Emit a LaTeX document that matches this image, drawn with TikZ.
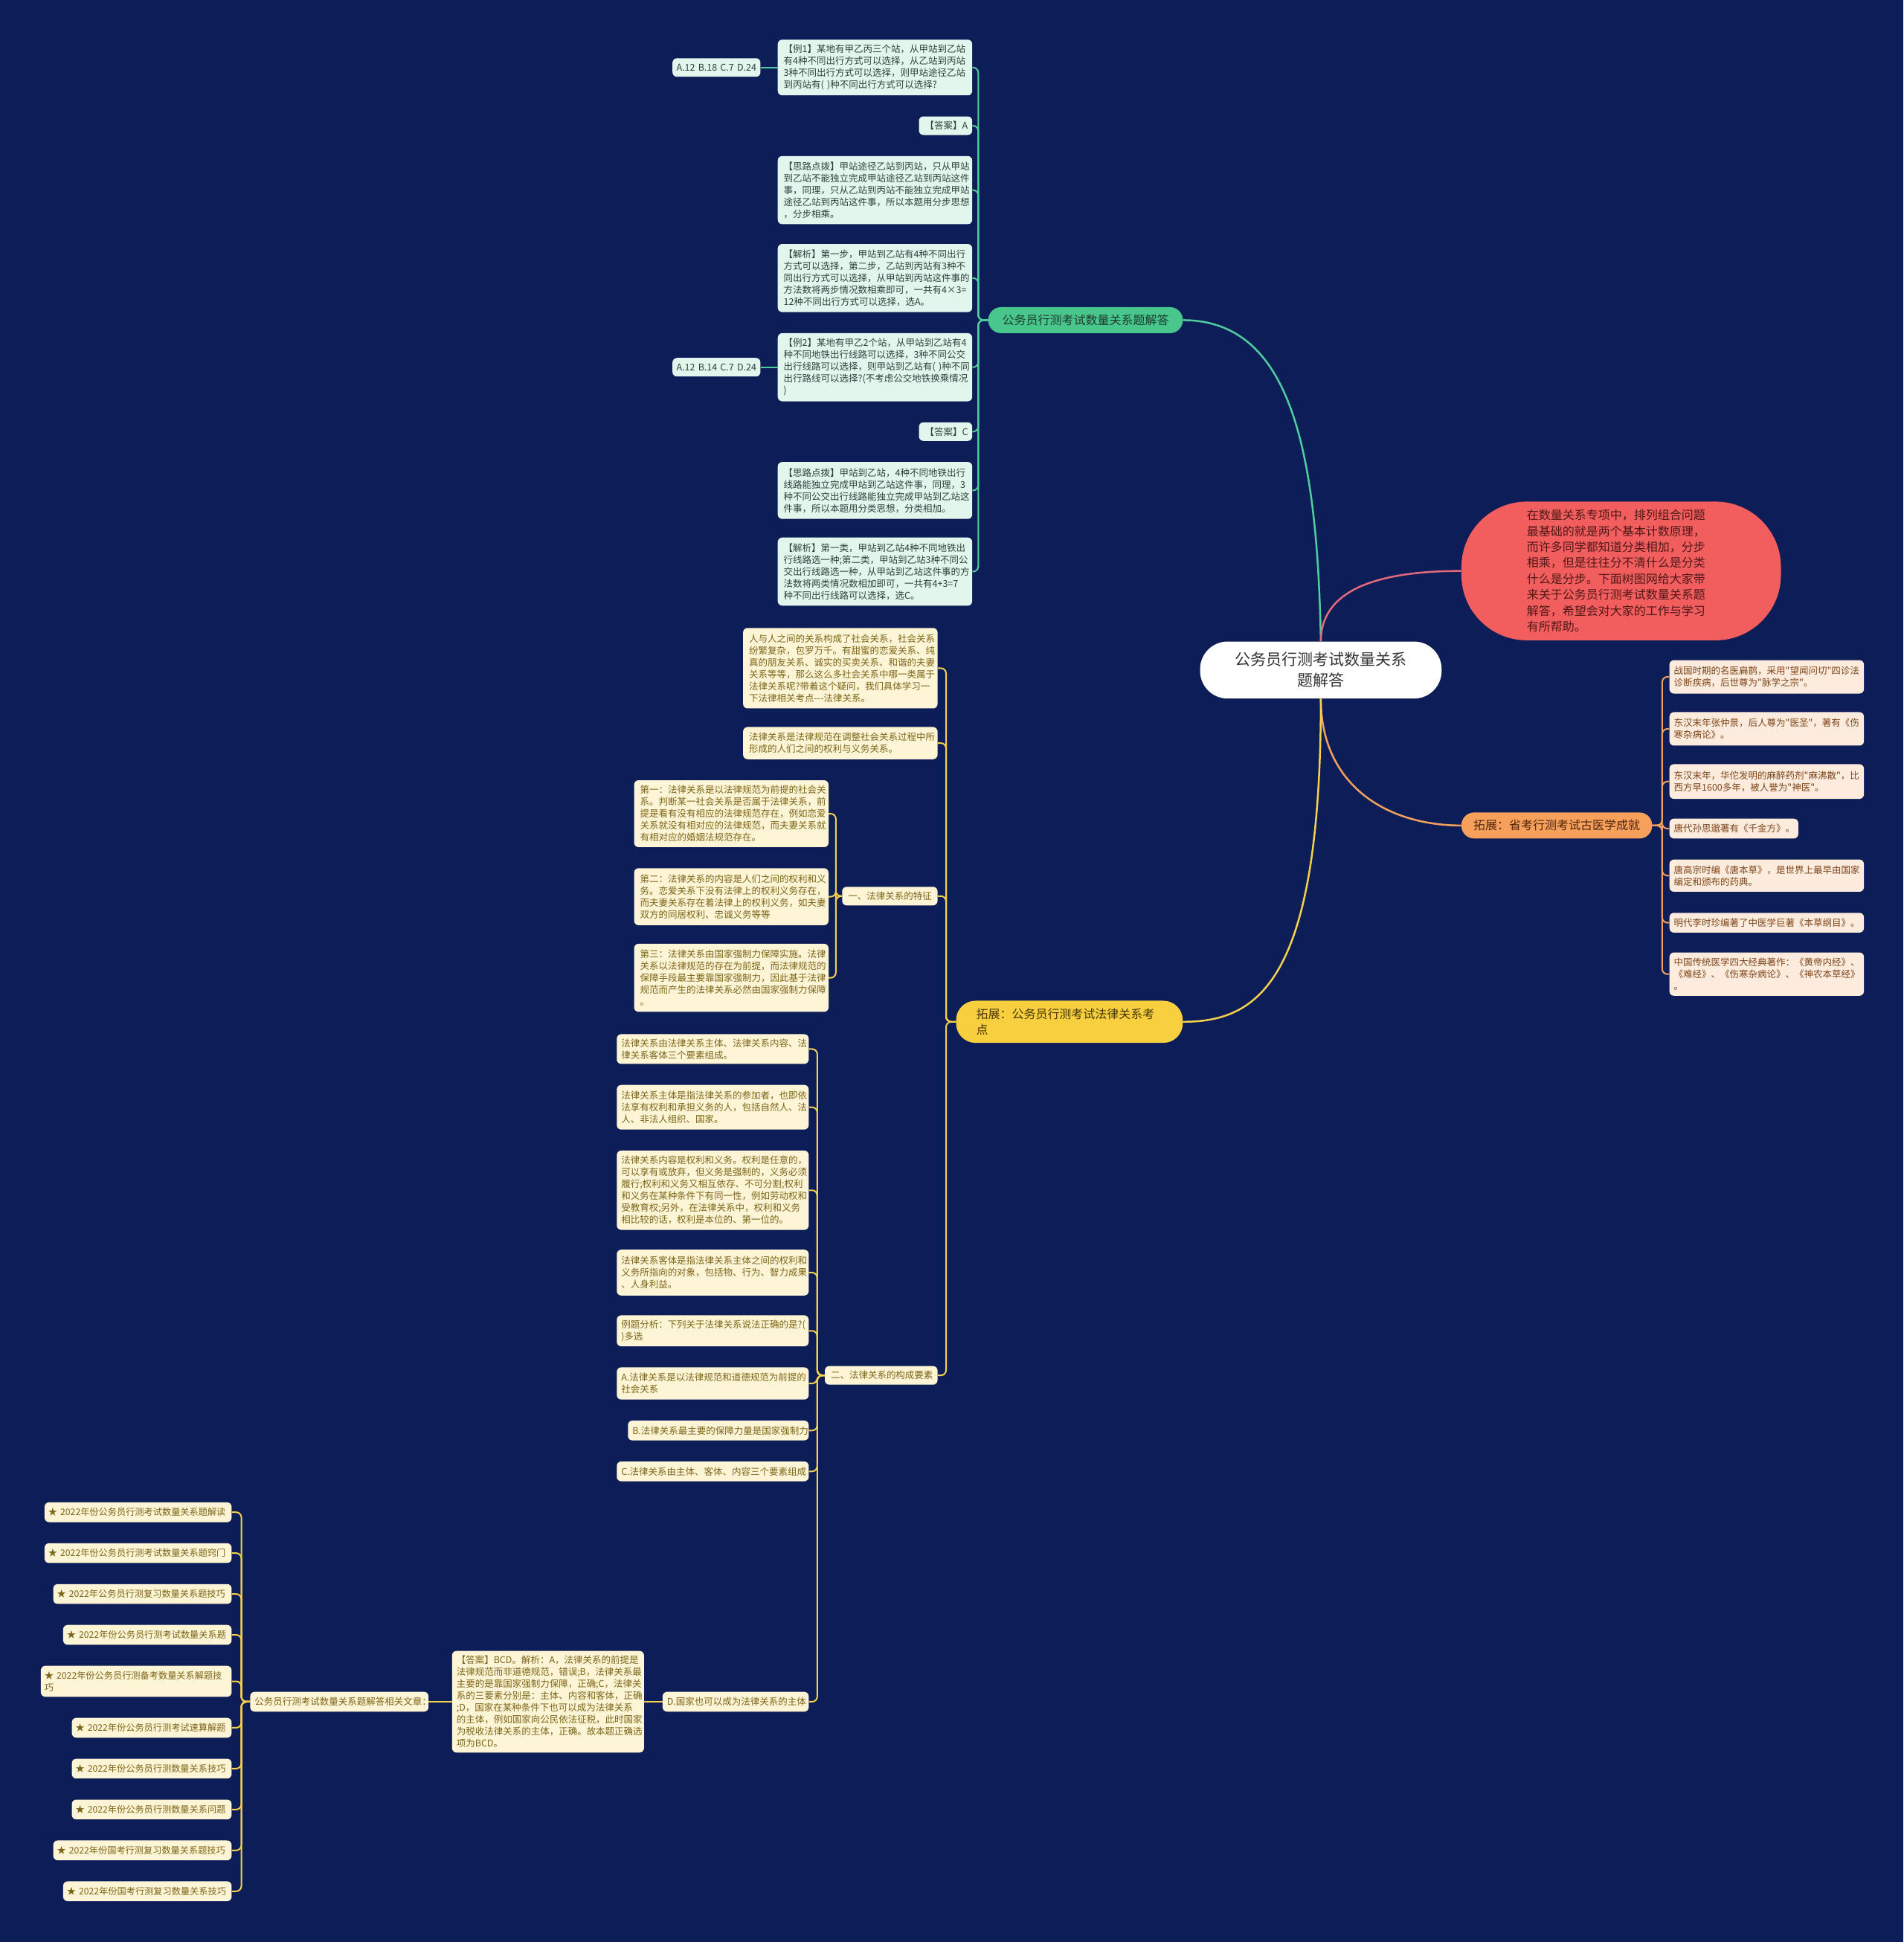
\documentclass[tikz,border=0pt]{standalone}
\usepackage{fontspec}
\newfontfamily\cjkf{Noto Sans CJK SC}
\definecolor{bg}{RGB}{12,29,88}
\definecolor{gfill}{RGB}{72,198,140}
\definecolor{gtext}{RGB}{28,58,44}
\definecolor{gchfill}{RGB}{226,246,238}
\definecolor{gchtext}{RGB}{47,64,58}
\definecolor{gline}{RGB}{80,205,158}
\definecolor{rfill}{RGB}{242,93,93}
\definecolor{rtext}{RGB}{80,24,24}
\definecolor{rline}{RGB}{226,106,124}
\definecolor{ofill}{RGB}{246,160,92}
\definecolor{otext}{RGB}{80,38,10}
\definecolor{ochfill}{RGB}{253,236,222}
\definecolor{ochtext}{RGB}{126,68,24}
\definecolor{oline}{RGB}{244,161,93}
\definecolor{yfill}{RGB}{247,207,63}
\definecolor{ytext}{RGB}{70,55,5}
\definecolor{ychfill}{RGB}{254,245,214}
\definecolor{ychtext}{RGB}{124,100,24}
\definecolor{yline}{RGB}{245,208,74}
\definecolor{ctext}{RGB}{51,51,51}
% #1 pad (pt), #2 name, #3 x1, #4 y1, #5 x2, #6 y2, #7 style, #8 text
\newcommand\bx[8][8]{%
  \pgfmathsetmacro\bxw{(#5-#3)*1.6656-2*#1}%
  \pgfmathsetmacro\bxh{(#6-#4)*1.6656}%
  \node[#7, inner xsep=#1pt, inner ysep=0pt, text width=\bxw pt, minimum height=\bxh pt]
    (#2) at ({(#3+#5)/2},{(#4+#6)/2}) {#8};}
\newcommand\lkL[4]{\draw[#1] (#2.west) -- ++(-#4,0) |- (#3.east);}
\newcommand\lkR[4]{\draw[#1] (#2.east) -- ++(#4,0) |- (#3.west);}
\begin{document}
\begin{tikzpicture}[x=1.6656pt,y=-1.6656pt,
  base/.style={align=left, font=\cjkf\fontsize{12.5}{16}\selectfont},
  gch/.style={base, rounded corners=6pt, fill=gchfill, text=gchtext},
  och/.style={base, rounded corners=6pt, fill=ochfill, text=ochtext},
  ych/.style={base, rounded corners=6pt, fill=ychfill, text=ychtext},
  lst/.style={ych, font=\cjkf\fontsize{12.2}{16}\selectfont},
  mainfont/.style={font=\cjkf\fontsize{16}{21.5}\selectfont},
  gnode/.style={mainfont, rounded corners=17pt, fill=gfill, text=gtext, align=center},
  onode/.style={mainfont, rounded corners=17pt, fill=ofill, text=otext, align=center},
  ynode/.style={mainfont, rounded corners=26pt, fill=yfill, text=ytext, align=left},
  rnode/.style={mainfont, rounded corners=88pt, fill=rfill, text=rtext, align=left},
  cnode/.style={font=\cjkf\fontsize{21}{28}\selectfont, rounded corners=37pt, fill=white, text=ctext, align=center},
  gl/.style={draw=gline, line width=2pt, rounded corners=7pt},
  ol/.style={draw=oline, line width=2pt, rounded corners=7pt},
  yl/.style={draw=yline, line width=2pt, rounded corners=7pt},
  mainline/.style={line width=2.5pt}]
\fill[bg] (0,0) rectangle (1537,1568);

% ---------- center & main nodes
\bx{C}{969}{518}{1164}{564}{cnode}{公务员行测考试数量关系\\题解答}
\bx{G}{798}{248}{955}{269}{gnode}{公务员行测考试数量关系题解答}
\bx[88]{R}{1180}{405}{1438}{517}{rnode}{在数量关系专项中，排列组合问题\\最基础的就是两个基本计数原理，\\而许多同学都知道分类相加，分步\\相乘，但是往往分不清什么是分类\\什么是分步。下面树图网给大家带\\来关于公务员行测考试数量关系题\\解答，希望会对大家的工作与学习\\有所帮助。}
\bx{O}{1180}{656}{1334}{677}{onode}{拓展：省考行测考试古医学成就}
\bx[27]{Y}{772}{808}{955}{842}{ynode}{拓展：公务员行测考试法律关系考\\点}

% ---------- green branch
\bx{g1}{628}{32}{785}{77}{gch}{【例1】某地有甲乙丙三个站，从甲站到乙站\\有4种不同出行方式可以选择，从乙站到丙站\\3种不同出行方式可以选择，则甲站途径乙站\\到丙站有(~)种不同出行方式可以选择?}
\bx[3]{g1a}{543}{47}{614}{62}{gch, align=center}{A.12~B.18~C.7~D.24}
\bx{g2}{742}{94}{785}{109}{gch}{【答案】A}
\bx{g3}{628}{126}{785}{181}{gch}{【思路点拨】甲站途径乙站到丙站，只从甲站\\到乙站不能独立完成甲站途径乙站到丙站这件\\事，同理，只从乙站到丙站不能独立完成甲站\\途径乙站到丙站这件事，所以本题用分步思想\\，分步相乘。}
\bx{g4}{628}{197}{785}{252}{gch}{【解析】第一步，甲站到乙站有4种不同出行\\方式可以选择，第二步，乙站到丙站有3种不\\同出行方式可以选择，从甲站到丙站这件事的\\方法数将两步情况数相乘即可，一共有4×3=\\12种不同出行方式可以选择，选A。}
\bx{g5}{628}{269}{785}{324}{gch}{【例2】某地有甲乙2个站，从甲站到乙站有4\\种不同地铁出行线路可以选择，3种不同公交\\出行线路可以选择，则甲站到乙站有(~)种不同\\出行路线可以选择?(不考虑公交地铁换乘情况\\)}
\bx[3]{g5a}{543}{289}{614}{304}{gch, align=center}{A.12~B.14~C.7~D.24}
\bx{g6}{742}{341}{785}{356}{gch}{【答案】C}
\bx{g7}{628}{373}{785}{419}{gch}{【思路点拨】甲站到乙站，4种不同地铁出行\\线路能独立完成甲站到乙站这件事，同理，3\\种不同公交出行线路能独立完成甲站到乙站这\\件事，所以本题用分类思想，分类相加。}
\bx{g8}{628}{434}{785}{489}{gch}{【解析】第一类，甲站到乙站4种不同地铁出\\行线路选一种;第二类，甲站到乙站3种不同公\\交出行线路选一种，从甲站到乙站这件事的方\\法数将两类情况数相加即可，一共有4+3=7\\种不同出行线路可以选择，选C。}

% ---------- orange branch
\bx[6]{o1}{1348}{533}{1505}{560}{och}{战国时期的名医扁鹊，采用"望闻问切"四诊法\\诊断疾病，后世尊为"脉学之宗"。}
\bx[6]{o2}{1348}{575}{1505}{602}{och}{东汉末年张仲景，后人尊为"医圣"，著有《伤\\寒杂病论》。}
\bx[6]{o3}{1348}{617}{1505}{645}{och}{东汉末年，华佗发明的麻醉药剂"麻沸散"，比\\西方早1600多年，被人誉为"神医"。}
\bx[6]{o4}{1348}{661}{1452}{677}{och}{唐代孙思邈著有《千金方》。}
\bx[6]{o5}{1348}{694}{1505}{720}{och}{唐高宗时编《唐本草》，是世界上最早由国家\\编定和颁布的药典。}
\bx[6]{o6}{1348}{737}{1505}{753}{och}{明代李时珍编著了中医学巨著《本草纲目》。}
\bx[6]{o7}{1348}{769}{1505}{804}{och}{中国传统医学四大经典著作：《黄帝内经》、\\《难经》、《伤寒杂病论》、《神农本草经》\\。}

% ---------- yellow branch
\bx{y1}{600}{507}{757}{572}{ych}{人与人之间的关系构成了社会关系，社会关系\\纷繁复杂，包罗万千。有甜蜜的恋爱关系、纯\\真的朋友关系、诚实的买卖关系、和谐的夫妻\\关系等等，那么这么多社会关系中哪一类属于\\法律关系呢?带着这个疑问，我们具体学习一\\下法律相关考点---法律关系。}
\bx{y2}{600}{587}{757}{613}{ych}{法律关系是法律规范在调整社会关系过程中所\\形成的人们之间的权利与义务关系。}
\bx{y3}{680}{716}{757}{731}{ych}{一、法律关系的特征}
\bx{f1}{512}{630}{669}{684}{ych}{第一：法律关系是以法律规范为前提的社会关\\系。判断某一社会关系是否属于法律关系，前\\提是看有没有相应的法律规范存在，例如恋爱\\关系就没有相对应的法律规范，而夫妻关系就\\有相对应的婚姻法规范存在。}
\bx{f2}{512}{701}{669}{747}{ych}{第二：法律关系的内容是人们之间的权利和义\\务。恋爱关系下没有法律上的权利义务存在，\\而夫妻关系存在着法律上的权利义务，如夫妻\\双方的同居权利、忠诚义务等等}
\bx{f3}{512}{762}{669}{817}{ych}{第三：法律关系由国家强制力保障实施。法律\\关系以法律规范的存在为前提，而法律规范的\\保障手段最主要靠国家强制力，因此基于法律\\规范而产生的法律关系必然由国家强制力保障\\。}
\bx{y4}{666}{1103}{757}{1118}{ych}{二、法律关系的构成要素}
\bx[6]{c1}{498}{835}{653}{859}{ych}{法律关系由法律关系主体、法律关系内容、法\\律关系客体三个要素组成。}
\bx[6]{c2}{498}{876}{653}{912}{ych}{法律关系主体是指法律关系的参加者，也即依\\法享有权利和承担义务的人，包括自然人、法\\人、非法人组织、国家。}
\bx[6]{c3}{498}{929}{653}{993}{ych}{法律关系内容是权利和义务。权利是任意的，\\可以享有或放弃，但义务是强制的，义务必须\\履行;权利和义务又相互依存、不可分割;权利\\和义务在某种条件下有同一性，例如劳动权和\\受教育权;另外，在法律关系中，权利和义务\\相比较的话，权利是本位的、第一位的。}
\bx[6]{c4}{498}{1009}{653}{1046}{ych}{法律关系客体是指法律关系主体之间的权利和\\义务所指向的对象，包括物、行为、智力成果\\、人身利益。}
\bx[6]{c5}{498}{1062}{653}{1087}{ych}{例题分析：下列关于法律关系说法正确的是?(\\)多选}
\bx[6]{c6}{498}{1104}{653}{1130}{ych}{A.法律关系是以法律规范和道德规范为前提的\\社会关系}
\bx[6]{c7}{507}{1147}{653}{1163}{ych}{B.法律关系最主要的保障力量是国家强制力}
\bx[6]{c8}{498}{1180}{653}{1196}{ych}{C.法律关系由主体、客体、内容三个要素组成}
\bx[6]{c9}{535}{1366}{653}{1382}{ych}{D.国家也可以成为法律关系的主体}
\bx[6]{bcd}{365}{1333}{520}{1415}{ych}{【答案】BCD。解析：A，法律关系的前提是\\法律规范而非道德规范，错误;B，法律关系最\\主要的是靠国家强制力保障，正确;C，法律关\\系的三要素分别是：主体、内容和客体，正确\\;D，国家在某种条件下也可以成为法律关系\\的主体，例如国家向公民依法征税，此时国家\\为税收法律关系的主体，正确。故本题正确选\\项为BCD。}
\bx[6]{rel}{202}{1366}{346}{1382}{ych}{公务员行测考试数量关系题解答相关文章：}
\bx[5]{l1}{36}{1213}{187}{1229}{lst}{★~2022年份公务员行测考试数量关系题解读}
\bx[5]{l2}{36}{1246}{187}{1262}{lst}{★~2022年份公务员行测考试数量关系题窍门}
\bx[5]{l3}{43}{1279}{187}{1295}{lst}{★~2022年公务员行测复习数量关系题技巧}
\bx[5]{l4}{51}{1312}{187}{1328}{lst}{★~2022年份公务员行测考试数量关系题}
\bx[5]{l5}{33}{1345}{187}{1370}{lst}{★~2022年份公务员行测备考数量关系解题技\\巧}
\bx[5]{l6}{58}{1387}{187}{1403}{lst}{★~2022年份公务员行测考试速算解题}
\bx[5]{l7}{58}{1420}{187}{1436}{lst}{★~2022年份公务员行测数量关系技巧}
\bx[5]{l8}{58}{1453}{187}{1469}{lst}{★~2022年份公务员行测数量关系问题}
\bx[5]{l9}{43}{1486}{187}{1502}{lst}{★~2022年份国考行测复习数量关系题技巧}
\bx[5]{l10}{51}{1519}{187}{1535}{lst}{★~2022年份国考行测复习数量关系技巧}

% ---------- main curves
\draw[mainline, draw=gline] (G.east) .. controls +(85,0) and +(-3,-160) .. (C.north);
\draw[mainline, draw=rline] (C.north) .. controls +(0,-45) and +(-60,0) .. (R.west);
\draw[mainline, draw=oline] (C.south) .. controls +(0,70) and +(-60,0) .. (O.west);
\draw[mainline, draw=yline] (C.south) .. controls +(0,230) and +(60,0) .. (Y.east);

% ---------- green connectors
\foreach \n in {g1,g2,g3,g4,g5,g6,g7,g8} {\lkL{gl}{G}{\n}{8}}
\draw[gl] (g1.west) -- (g1a.east);
\draw[gl] (g5.west) -- (g5a.east);

% ---------- orange connectors
\foreach \n in {o1,o2,o3,o4,o5,o6,o7} {\lkR{ol}{O}{\n}{8}}

% ---------- yellow connectors
\foreach \n in {y1,y2,y3,y4} {\lkL{yl}{Y}{\n}{8}}
\foreach \n in {f1,f2,f3} {\lkL{yl}{y3}{\n}{5}}
\foreach \n in {c1,c2,c3,c4,c5,c6,c7,c8,c9} {\lkL{yl}{y4}{\n}{6}}
\draw[yl] (c9.west) -- (bcd.east);
\draw[yl] (bcd.west) -- (rel.east);
\foreach \n in {l1,l2,l3,l4,l5,l6,l7,l8,l9,l10} {\lkL{yl}{rel}{\n}{7}}
\end{tikzpicture}
\end{document}
